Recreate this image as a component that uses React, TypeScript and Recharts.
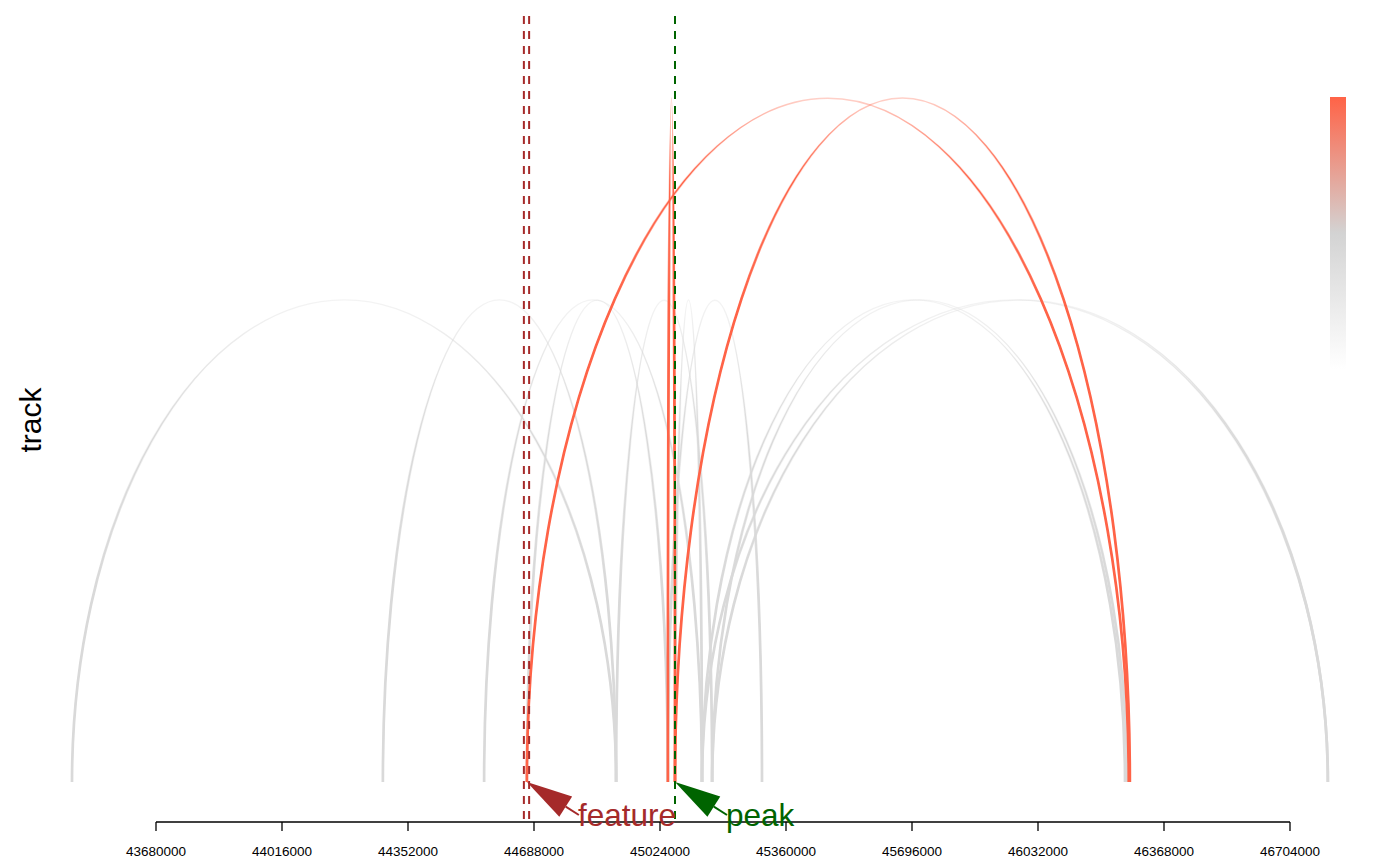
import React from 'react';
import {
  ComposedChart,
  XAxis,
  YAxis,
  ReferenceArea,
  ReferenceLine,
  ReferenceDot,
} from 'recharts';

// genomic positions (bp) of the axis ticks
const xTicks = [
  43680000, 44016000, 44352000, 44688000, 45024000,
  45360000, 45696000, 46032000, 46368000, 46704000,
];

// interactions: anchor start, anchor end, score (arc height / colour)
const arcStarts = [
  43456000, 44285000, 44555000, 44669000, 44907000, 45064000, 45045000,
  45136000, 45163000, 45136000, 45163000,
  44669000, 45064000, 45045000,
];
const arcEnds = [
  44907000, 44907000, 45136000, 45045000, 45163000, 45136000, 45296000,
  46264000, 46270000, 46805000, 46805000,
  46274000, 46277000, 45064000,
];
const arcScores = [
  0.705, 0.705, 0.705, 0.705, 0.705, 0.705, 0.705,
  0.705, 0.705, 0.705, 0.705,
  1, 1, 1,
];

// highlighted regions
const featureLines = [44661000, 44675000];
const peakLines = [45064000];
const featureAnchor = 44669000;
const peakAnchor = 45064000;

const FONT = '"Liberation Sans", Arial, Helvetica, sans-serif';
const HIGH = '#FF6347';
const LOW = '#D9D9D9';
const BROWN = '#A52A2A';
const GREEN = '#006400';

// plot box spans the whole svg width, axis line only covers the tick range
const xDomain = [43264000, 46997333];
const yDomain = [-0.0585, 1.1433];
const lineTop = 1.12;

const arcs = arcStarts.map((s, i) => ({
  start: s,
  end: arcEnds[i],
  score: arcScores[i],
}));

// half ellipse between the two anchors, fading and thinning toward the top
function arcShape(color: string, fade: number[], id: string) {
  return (props: any) => {
    const { x, y, width, height } = props;
    const base = y + height;
    const d = `M${x},${base} A${width / 2},${height} 0 0 1 ${x + width},${base}`;
    return (
      <g>
        <defs>
          <linearGradient id={id} x1="0" y1="0" x2="0" y2="1">
            <stop offset="0" stopColor={color} stopOpacity={fade[0]} />
            <stop offset={fade[1]} stopColor={color} stopOpacity={1} />
          </linearGradient>
          <linearGradient id={id + 'w'} x1="0" y1="0" x2="0" y2="1">
            <stop offset={fade[2]} stopColor={color} stopOpacity={0} />
            <stop offset={fade[3]} stopColor={color} stopOpacity={1} />
          </linearGradient>
        </defs>
        <path d={d} fill="none" stroke={`url(#${id})`} strokeWidth={1.3} />
        <path d={d} fill="none" stroke={`url(#${id}w)`} strokeWidth={2.7} />
      </g>
    );
  };
}

function pointer(color: string, label: string) {
  return (props: any) => {
    const { cx, cy } = props;
    const dx = 52;
    const dy = 33;
    const len = Math.hypot(dx, dy);
    const ux = dx / len;
    const uy = dy / len;
    const headLen = 46;
    const headHalf = 12;
    const bx = cx + ux * headLen;
    const by = cy + uy * headLen;
    const pts = `${cx},${cy} ${bx - uy * headHalf},${by + ux * headHalf} ${bx + uy * headHalf},${by - ux * headHalf}`;
    return (
      <g>
        <line x1={bx} y1={by} x2={cx + dx} y2={cy + dy} stroke={color} strokeWidth={2} />
        <polygon points={pts} fill={color} />
        <text x={cx + 51} y={cy + 44} fill={color} fontSize={31.5} fontFamily={FONT}>
          {label}
        </text>
      </g>
    );
  };
}

export default function App() {
  return (
    <div style={{ position: 'absolute', left: 0, top: 0, width: 1400, height: 866, background: '#fff' }}>
      <ComposedChart
        width={1400}
        height={866}
        data={arcs}
        margin={{ top: 0, right: 0, bottom: 0, left: 0 }}
      >
        <XAxis
          dataKey="start"
          type="number"
          domain={xDomain}
          allowDataOverflow
          ticks={xTicks}
          interval={0}
          height={44}
          axisLine={false}
          tickLine={{ stroke: '#000', strokeWidth: 1.3 }}
          tickSize={9}
          tickMargin={15}
          tick={{ fill: '#000', fontSize: 13.5, fontFamily: FONT }}
        />
        <YAxis hide type="number" domain={yDomain} allowDataOverflow />

        {arcs
          .filter((a) => a.score < 0.9)
          .map((a, i) => (
            <ReferenceArea
              key={'g' + i}
              x1={a.start}
              x2={a.end}
              y1={0}
              y2={a.score}
              shape={arcShape(LOW, [0.3, 0.3, 0.15, 0.6], 'gfade' + i)}
            />
          ))}
        {arcs
          .filter((a) => a.score >= 0.9)
          .map((a, i) => (
            <ReferenceArea
              key={'r' + i}
              x1={a.start}
              x2={a.end}
              y1={0}
              y2={a.score}
              shape={arcShape(HIGH, [0.3, 0.12, 0.05, 0.3], 'rfade' + i)}
            />
          ))}

        {/* axis line over the tick range only */}
        <ReferenceLine
          segment={[
            { x: xTicks[0], y: yDomain[0] },
            { x: xTicks[xTicks.length - 1], y: yDomain[0] },
          ]}
          stroke="#000"
          strokeWidth={1.4}
          ifOverflow="visible"
        />

        {featureLines.map((x) => (
          <ReferenceLine
            key={'f' + x}
            segment={[
              { x, y: lineTop },
              { x, y: yDomain[0] },
            ]}
            stroke={BROWN}
            strokeWidth={2}
            strokeDasharray="8 7"
            ifOverflow="visible"
          />
        ))}
        {peakLines.map((x) => (
          <ReferenceLine
            key={'p' + x}
            segment={[
              { x, y: lineTop },
              { x, y: yDomain[0] },
            ]}
            stroke={GREEN}
            strokeWidth={2}
            strokeDasharray="8 7"
            ifOverflow="visible"
          />
        ))}

        <ReferenceDot x={featureAnchor} y={0} r={0} ifOverflow="visible" shape={pointer(BROWN, 'feature')} />
        <ReferenceDot x={peakAnchor} y={0} r={0} ifOverflow="visible" shape={pointer(GREEN, 'peak')} />
      </ComposedChart>

      {/* y label */}
      <div
        style={{
          position: 'absolute',
          left: 31,
          top: 420,
          transform: 'translate(-50%, -50%) rotate(-90deg)',
          fontFamily: FONT,
          fontSize: 30,
          lineHeight: 1,
          whiteSpace: 'nowrap',
          color: '#000',
        }}
      >
        track
      </div>

      {/* colour key */}
      <div
        style={{
          position: 'absolute',
          left: 1330,
          top: 97,
          width: 16,
          height: 272,
          background: `linear-gradient(to bottom, ${HIGH} 0%, #D3D3D3 50%, #FFFFFF 100%)`,
        }}
      />
    </div>
  );
}
